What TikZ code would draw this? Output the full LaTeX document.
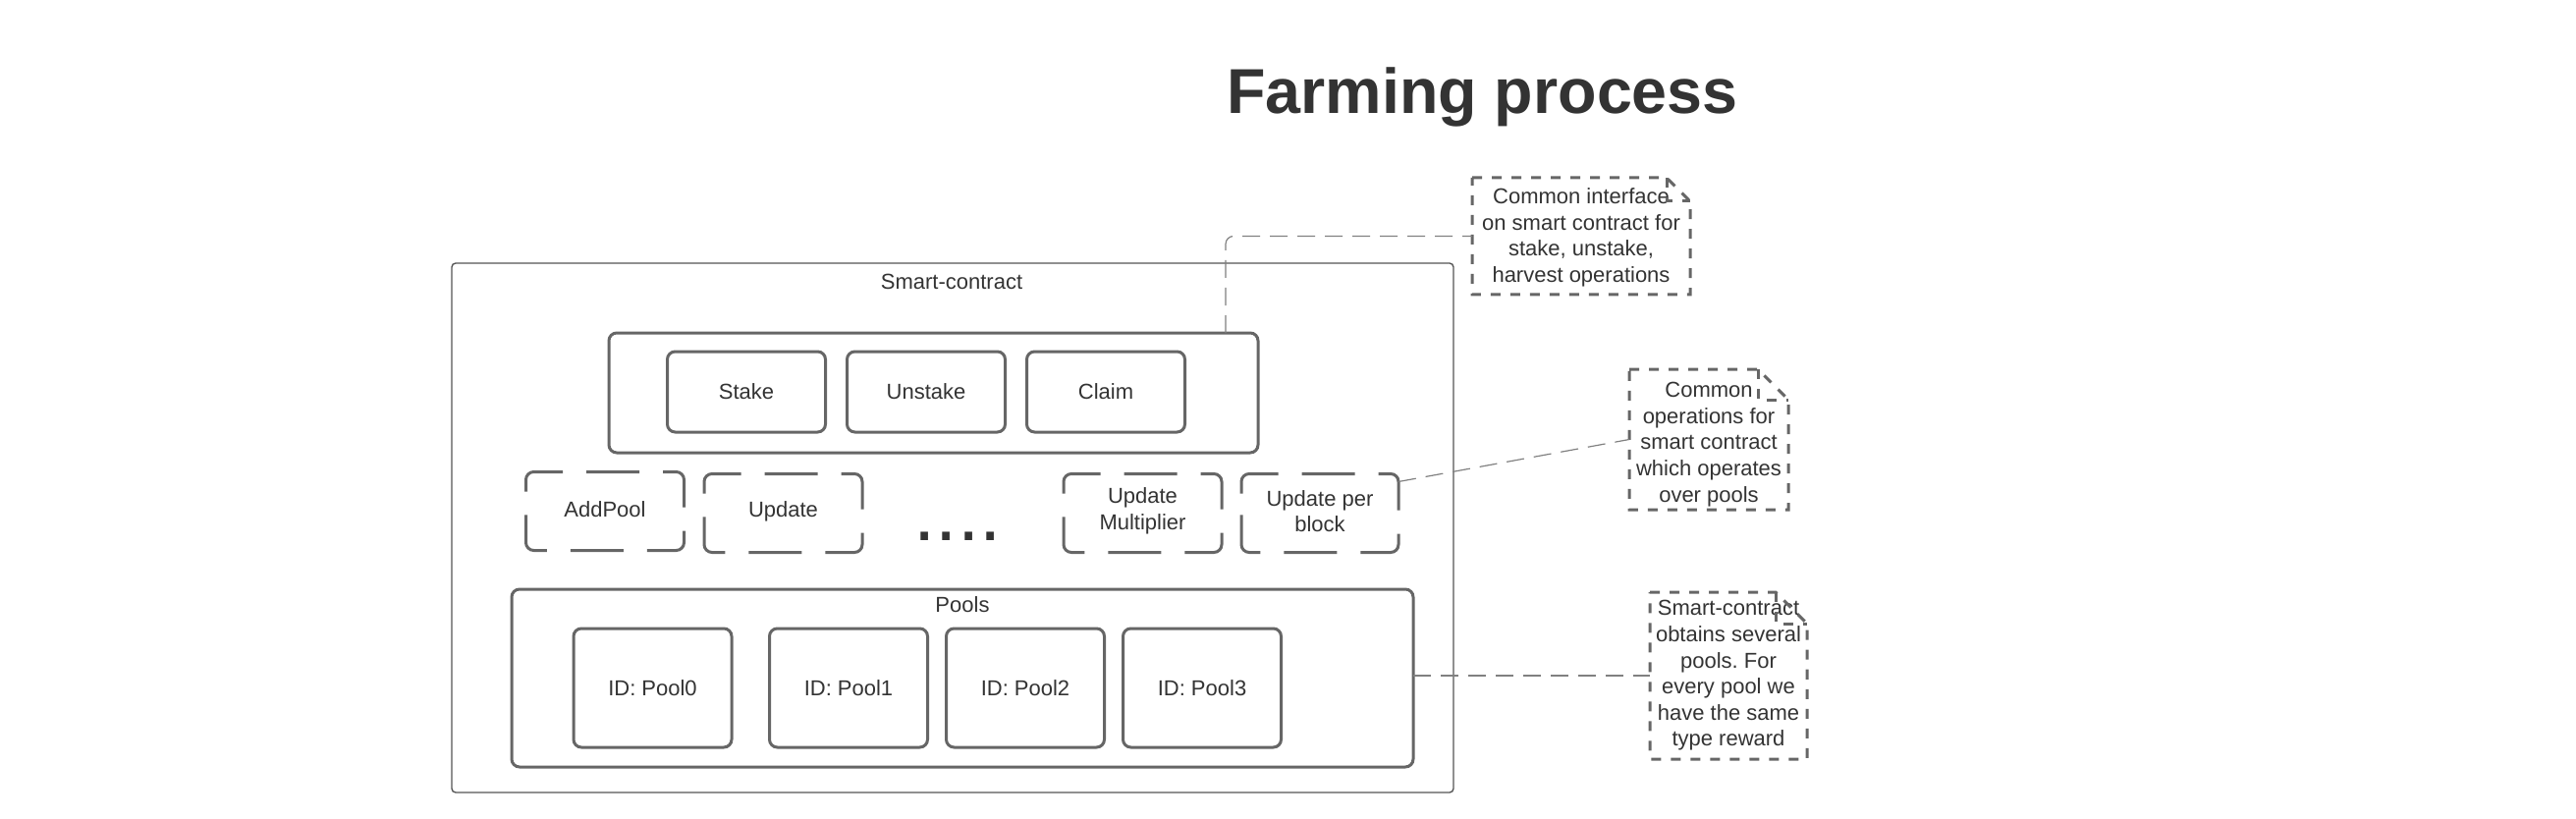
\documentclass[tikz,border=0pt]{standalone}
\usepackage{fontspec}
\setmainfont{Liberation Sans}
\usetikzlibrary{calc}
\frenchspacing
\definecolor{txt}{HTML}{333333}
\definecolor{boxc}{HTML}{666666}
\definecolor{outc}{HTML}{555555}
\definecolor{connc}{HTML}{808080}
\begin{document}
\begin{tikzpicture}[x=0.5pt,y=-0.5pt,
  lbl/.style={text=txt, font=\fontsize{11pt}{13.3pt}\selectfont, align=center, inner sep=0pt},
  outerbox/.style={draw=outc, line width=0.7pt, rounded corners=2pt, inner sep=0pt, outer sep=0pt},
  sbox/.style={draw=boxc, line width=1.5pt, rounded corners=4pt, text=txt, font=\fontsize{11pt}{13.3pt}\selectfont, align=center, inner sep=0pt, outer sep=0pt},
  hold/.style={text=txt, font=\fontsize{11pt}{13.3pt}\selectfont, align=center, inner sep=0pt, outer sep=0pt},
  dbox/.style={draw=boxc, line width=1.5pt, rounded corners=4pt, dash pattern=on 27pt off 12pt, dash phase=33pt},
  nbox/.style={draw=boxc, line width=1.5pt, dash pattern=on 5pt off 5pt},
  conn/.style={draw=connc, line width=0.6pt, dash pattern=on 9pt off 5pt}
]
\useasboundingbox (0,0) rectangle (2623,834);

% title
\node[anchor=base, text=txt, font=\fontsize{32.3pt}{38pt}\selectfont\bfseries, inner sep=0pt] (title) at (1509.5,116) {Farming process};

% smart-contract outer box
\node[outerbox, minimum width=510pt, minimum height=269.5pt] (sc) at (970,537.5) {};
\node[lbl] (sclbl) at (969,287) {Smart-contract};

% operations box
\node[sbox, minimum width=330.5pt, minimum height=61pt] (ops) at (950.5,400) {};
\node[sbox, minimum width=80.5pt, minimum height=41pt] (stake) at (760,399) {Stake};
\node[sbox, minimum width=80.5pt, minimum height=41pt] (unstake) at (943,399) {Unstake};
\node[sbox, minimum width=80.5pt, minimum height=41pt] (claim) at (1126,399) {Claim};

% dashed operations
\node[hold, minimum width=80.5pt, minimum height=40pt] (addpool) at (616,520.5) {};
\node[lbl] (addpooltxt) at (616,518.5) {AddPool};
\node[hold, minimum width=80.5pt, minimum height=40pt] (update) at (797.5,522.5) {};
\node[lbl] (updatetxt) at (797.5,520.5) {Update};
\node[hold, minimum width=80.5pt, minimum height=40pt] (updmul) at (1163.5,522.5) {};
\node[lbl] (updmultxt) at (1163.5,520.5) {Update\\Multiplier};
\node[hold, minimum width=80pt, minimum height=40pt] (upb) at (1344,522.5) {};
\node[lbl] (upbtxt) at (1344,520.5) {Update per\\block};
\foreach \n in {addpool,update,updmul,upb}
  \draw[dbox] (\n.west) -- (\n.north west) -- (\n.north east) -- (\n.south east) -- (\n.south west) -- cycle;
\node[anchor=base, text=txt, font=\fontsize{40pt}{40pt}\selectfont, inner sep=0pt] (dots) at (975,550) {....};

% pools
\node[sbox, minimum width=459pt, minimum height=90.5pt] (pools) at (980,690.5) {};
\node[lbl] (poolslbl) at (980,616) {Pools};
\node[sbox, minimum width=80.5pt, minimum height=60.5pt] (pool0) at (664.5,700.5) {ID: Pool0};
\node[sbox, minimum width=80.5pt, minimum height=60.5pt] (pool1) at (864,700.5) {ID: Pool1};
\node[sbox, minimum width=80.5pt, minimum height=60.5pt] (pool2) at (1044,700.5) {ID: Pool2};
\node[sbox, minimum width=80.5pt, minimum height=60.5pt] (pool3) at (1224,700.5) {ID: Pool3};

% notes
\node[hold, minimum width=111pt, minimum height=59.5pt] (note1) at (1610,240.5) {};
\node[lbl] (note1txt) at (1610,242) {Common interface\\on smart contract for\\stake, unstake,\\harvest operations};
\node[hold, minimum width=81pt, minimum height=71.5pt] (note2) at (1740,447.5) {};
\node[lbl] (note2txt) at (1740,452.5) {Common\\operations for\\smart contract\\which operates\\over pools};
\node[hold, minimum width=80pt, minimum height=85pt] (note3) at (1760,688) {};
\node[lbl] (note3txt) at (1760,688) {Smart-contract\\obtains several\\pools. For\\every pool we\\have the same\\type reward};

\foreach \n/\d in {note1/24,note2/31,note3/32}{
  \draw[nbox] (\n.north west) -- ($(\n.north east)+(-\d,0)$) -- ($(\n.north east)+(0,\d)$) -- (\n.south east) -- (\n.south west) -- cycle;
  \draw[nbox] ($(\n.north east)+(-\d,0)$) -- ($(\n.north east)+(-\d,\d)$) -- ($(\n.north east)+(0,\d)$);
}

% connectors
\draw[conn, rounded corners=4pt] ($(ops.north east)+(-33,0)$) |- (note1.west);
\draw[conn] ($(upb.north east)+(0,8)$) -- (note2.west);
\draw[conn] (pools.east |- note3.west) -- (note3.west);
\end{tikzpicture}
\end{document}
